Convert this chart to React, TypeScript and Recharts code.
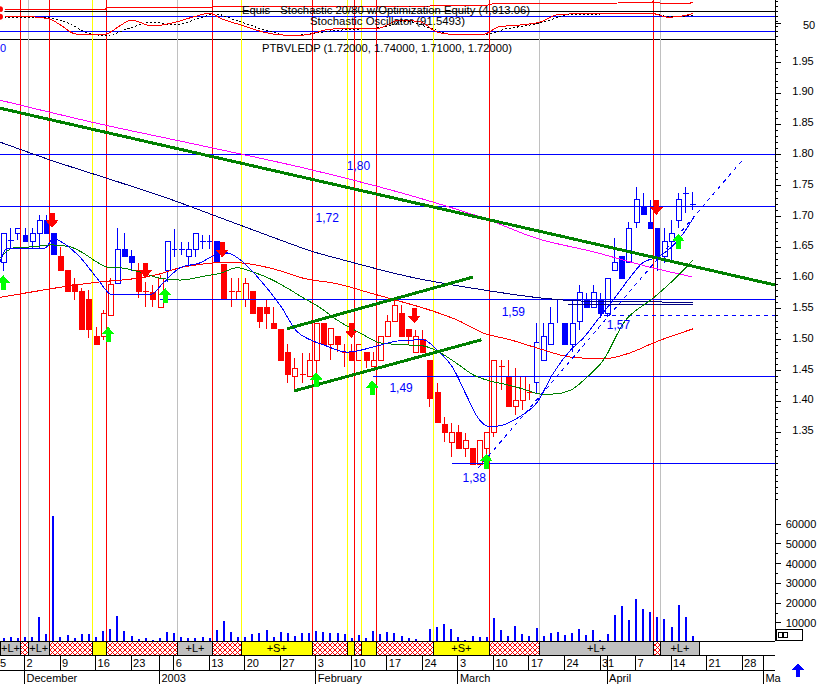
import React from 'react';
import {
  ComposedChart, Bar, Line, XAxis, YAxis, ReferenceLine, ReferenceArea, ReferenceDot,
} from 'recharts';

const FONT = '"Liberation Sans", Arial, sans-serif';
const X_DOMAIN: [number, number] = [-3.45, 105.63];
const PRICE_DOMAIN: [number, number] = [1.01104, 1.98831];
const VOL_DOMAIN: [number, number] = [909, 304950];
const STOCH_DOMAIN: [number, number] = [-16, 144];
const EQUITY_DOMAIN: [number, number] = [3000, 5000];

// trading-day index (0 = 2 Dec 2002)
const days = [
  -3, -2, -1, 0, 1, 2, 3, 4, 5, 6, 7, 8, 9, 10, 11, 12, 13, 14, 15, 16, 17, 18, 19, 20, 21, 22, 23, 24, 25, 26,
  27, 28, 29, 30, 31, 32, 33, 34, 35, 36, 37, 38, 39, 40, 41, 42, 43, 44, 45, 46, 47, 48, 49, 50, 51, 52, 53, 54,
  55, 56, 57, 58, 59, 60, 61, 62, 63, 64, 65, 66, 67, 68, 69, 70, 71, 72, 73, 74, 75, 76, 77, 78, 79, 80, 81, 82,
  83, 84, 85, 86, 87, 88, 89, 90, 91, 92, 93, 94,
];
const opens = [
  1.625, 1.662, 1.672, 1.670, 1.659, 1.672, 1.693, 1.672,
  1.636, 1.612, 1.589, 1.578, 1.565, 1.505, 1.505, 1.540,
  1.591, 1.646, 1.636,
  1.612, 1.579, 1.576, 1.553,
  1.612, 1.647, 1.646, 1.636, 1.647, 1.660, 1.660, 1.659,
  1.623, 1.579, 1.566, 1.566, 1.578, 1.553, 1.553, 1.527,
  1.516, 1.480, 1.441, 1.443, 1.441, 1.467, 1.527, 1.493,
  1.505, 1.480, 1.480, 1.467, 1.480, 1.456, 1.467, 1.505,
  1.529, 1.542, 1.516, 1.480, 1.500, 1.467, 1.415, 1.363,
  1.334, 1.349, 1.323, 1.323, 1.297, 1.323, 1.349, 1.456,
  1.441, 1.391, 1.402, 1.415,
  1.430, 1.467, 1.493, 1.565, 1.527, 1.493, 1.529, 1.565,
  1.553, 1.566, 1.543, 1.612, 1.636, 1.625, 1.691, 1.716,
  1.691, 1.681, 1.636, 1.659, 1.694, 1.738, 1.720,
];
const highs = [
  1.672, 1.681, 1.681, 1.681, 1.681, 1.703, 1.703, 1.672,
  1.651, 1.612, 1.600, 1.584, 1.581, 1.521, 1.548, 1.600,
  1.681, 1.673, 1.646,
  1.625, 1.594, 1.589, 1.605,
  1.659, 1.680, 1.659, 1.659, 1.672, 1.670, 1.670, 1.659,
  1.623, 1.600, 1.600, 1.600, 1.578, 1.553, 1.565, 1.553,
  1.516, 1.493, 1.470, 1.479, 1.479, 1.527, 1.527, 1.518,
  1.505, 1.493, 1.493, 1.493, 1.480, 1.480, 1.505, 1.540,
  1.568, 1.556, 1.516, 1.516, 1.516, 1.467, 1.430, 1.375,
  1.365, 1.362, 1.349, 1.323, 1.336, 1.349, 1.467, 1.467,
  1.467, 1.454, 1.441, 1.428,
  1.527, 1.527, 1.553, 1.565, 1.527, 1.565, 1.589, 1.576,
  1.589, 1.576, 1.600, 1.665, 1.636, 1.691, 1.748, 1.738,
  1.727, 1.681, 1.681, 1.694, 1.738, 1.748, 1.740,
];
const lows = [
  1.612, 1.647, 1.662, 1.660, 1.647, 1.647, 1.672, 1.638,
  1.612, 1.578, 1.565, 1.516, 1.503, 1.492, 1.500, 1.540,
  1.591, 1.636, 1.612,
  1.568, 1.553, 1.553, 1.553,
  1.594, 1.634, 1.638, 1.618, 1.634, 1.647, 1.647, 1.625,
  1.566, 1.553, 1.566, 1.553, 1.543, 1.519, 1.518, 1.518,
  1.467, 1.430, 1.418, 1.430, 1.441, 1.441, 1.492, 1.467,
  1.480, 1.456, 1.467, 1.467, 1.454, 1.456, 1.467, 1.505,
  1.529, 1.505, 1.492, 1.480, 1.480, 1.391, 1.365, 1.334,
  1.310, 1.323, 1.310, 1.297, 1.297, 1.297, 1.342, 1.418,
  1.391, 1.378, 1.386, 1.402,
  1.414, 1.467, 1.493, 1.527, 1.493, 1.480, 1.516, 1.553,
  1.553, 1.535, 1.537, 1.612, 1.600, 1.625, 1.681, 1.704,
  1.681, 1.612, 1.625, 1.625, 1.681, 1.706, 1.711,
];
const closes = [
  1.672, 1.662, 1.681, 1.660, 1.672, 1.693, 1.672, 1.638,
  1.612, 1.578, 1.578, 1.516, 1.516, 1.492, 1.542, 1.589,
  1.647, 1.636, 1.625,
  1.578, 1.579, 1.566, 1.600,
  1.659, 1.647, 1.646, 1.647, 1.672, 1.660, 1.660, 1.625,
  1.566, 1.579, 1.578, 1.591, 1.543, 1.529, 1.543, 1.518,
  1.467, 1.443, 1.454, 1.443, 1.467, 1.527, 1.492, 1.518,
  1.492, 1.480, 1.467, 1.493, 1.467, 1.467, 1.505, 1.529,
  1.556, 1.505, 1.505, 1.505, 1.480, 1.404, 1.365, 1.349,
  1.349, 1.323, 1.336, 1.297, 1.336, 1.349, 1.467, 1.456,
  1.391, 1.402, 1.441, 1.415,
  1.495, 1.505, 1.527, 1.565, 1.493, 1.527, 1.576, 1.553,
  1.576, 1.543, 1.600, 1.625, 1.600, 1.681, 1.727, 1.704,
  1.681, 1.636, 1.659, 1.672, 1.727, 1.738, 1.720,
];
const candleColors = [
  'b', 'b', 'b', 'b', 'b', 'b', 'b', 'b',
  'r', 'r', 'r', 'r', 'r', 'r', 'r', 'r',
  'b', 'b', 'b',
  'r', 'r', 'r', 'r',
  'b', 'b', 'b', 'b', 'b', 'b', 'b', 'b',
  'r', 'r', 'r', 'r', 'r', 'r', 'r', 'r', 'r', 'r', 'r', 'r', 'r', 'r', 'r', 'r', 'r', 'r', 'r', 'r', 'r', 'r',
  'r', 'r', 'r', 'r', 'r', 'r', 'r', 'r', 'r', 'r', 'r', 'r', 'r', 'r', 'r', 'r', 'r', 'r', 'r', 'r', 'r', 'r',
  'b', 'b', 'b', 'b', 'b', 'b', 'b', 'b', 'b', 'b', 'b', 'b', 'b', 'b', 'b', 'b', 'b', 'b', 'b', 'b', 'b', 'b', 'b',
];
const volumes = [
  2600, 2900, 2600, 2900, 2900, 13200, 4300, 64000,
  2900, 3900, 2250, 4450, 4450, 2900, 5800, 6800,
  13700, 5800, 3600,
  1900, 2600, 1400, 2250,
  5450, 4800, 2900, 2250, 2250, 2900, 2250, 6450,
  11000, 5450, 2900, 2900, 4450, 4800, 6450, 2900,
  5450, 5100, 3600, 5100, 5100, 5800, 5450, 5100,
  5100, 4450, 2250, 3900, 2250, 5800, 4450, 5450,
  4800, 3600, 2250, 1900, 1000, 6800, 8000, 9700,
  6800, 2900, 1400, 3300, 2900, 2900, 12400, 6450,
  3300, 8500, 4450, 3600,
  7500, 3600, 4800, 5450, 3950, 4800, 6800, 3950,
  6450, 1400, 4450, 14000, 18600, 11300, 22100, 17100,
  15500, 13000, 11900, 8000, 18900, 13000, 3300,
];

// moving averages: [day, price]
const fastMA = [
  [-3.45, 1.626], [-2.46, 1.649], [2.89, 1.649], [4.01, 1.664], [6.41, 1.649], [7.82, 1.634], [10.21, 1.600],
  [12.32, 1.573], [17.68, 1.573], [19.51, 1.592], [21.9, 1.617], [24.72, 1.625], [26.55, 1.636], [28.52, 1.641],
  [30.35, 1.630], [33.17, 1.597], [35.99, 1.556], [38.38, 1.513], [40.21, 1.500], [42.04, 1.492], [45.42, 1.480],
  [49.65, 1.490], [52.46, 1.498], [56.13, 1.500], [58.1, 1.483], [60.21, 1.456], [62.32, 1.407], [63.73, 1.375],
  [65.14, 1.360], [66.55, 1.360], [69.37, 1.373], [72.18, 1.399], [74.44, 1.446], [76.83, 1.483], [78.66, 1.503],
  [80.63, 1.532], [82.89, 1.565], [85.28, 1.602], [87.11, 1.626], [89.08, 1.634], [90.92, 1.649], [92.75, 1.673],
  [94.15, 1.698],
];
const greenMA = [
  [-3.45, 1.633], [-1.62, 1.649], [1.2, 1.651], [4.01, 1.654], [6.41, 1.651], [8.24, 1.641], [10.21, 1.626],
  [11.62, 1.618], [13.45, 1.617], [16.27, 1.610], [19.08, 1.600], [21.9, 1.597], [25.14, 1.603], [27.54, 1.608],
  [29.93, 1.617], [32.18, 1.610], [34.58, 1.599], [36.97, 1.584], [39.23, 1.568], [41.62, 1.552], [44.01, 1.532],
  [47.25, 1.511], [50.07, 1.495], [53.31, 1.492], [56.13, 1.490], [58.52, 1.479], [60.92, 1.461], [63.17, 1.443],
  [65.56, 1.433], [67.96, 1.427], [70.21, 1.420], [72.61, 1.412], [74.44, 1.412], [76.83, 1.418], [79.23, 1.440],
  [81.48, 1.467], [84.3, 1.527], [88.52, 1.568], [91.34, 1.597], [94.15, 1.630],
];
const redMA = [
  [-3.45, 1.569], [1.2, 1.578], [5.99, 1.587], [10.63, 1.594], [15.28, 1.599], [19.08, 1.607], [21.9, 1.617],
  [25.14, 1.623], [28.94, 1.626], [32.75, 1.621], [35.99, 1.612], [39.23, 1.600], [44.01, 1.591], [48.66, 1.576],
  [53.31, 1.561], [57.11, 1.548], [60.92, 1.532], [64.58, 1.511], [68.38, 1.500], [72.61, 1.485], [76.83, 1.472],
  [81.48, 1.469], [85.28, 1.479], [88.52, 1.495], [94.15, 1.518],
];
const navyMA = [
  [-3.45, 1.821], [3.59, 1.792], [12.46, 1.759], [20.07, 1.730], [28.52, 1.694], [35.99, 1.662], [40.63, 1.643],
  [44.72, 1.630], [54.3, 1.602], [64.58, 1.581], [72.61, 1.568], [78.24, 1.563], [94.15, 1.561],
];
const navyFlat = [[76.5, 1.558], [94.15, 1.558]];
const magentaMA = [
  [-3.45, 1.889], [10, 1.852], [25, 1.815], [40, 1.777], [55, 1.732], [65, 1.696], [72, 1.665], [80, 1.643],
  [88, 1.618], [94, 1.602],
];

// stochastic panel
const stochK = [
  [-3.45, 77], [0.92, 77], [3.59, 67], [5.42, 37], [6.83, 11], [8.38, 4], [11.34, 7], [13.59, 44], [15.0, 64],
  [17.96, 40], [20.92, 53], [23.87, 77], [26.13, 91], [27.54, 71], [30.49, 44], [33.45, 17], [36.41, 4],
  [39.37, 4], [42.32, 24], [45.28, 31], [49.79, 31], [52.75, 64], [55.7, 57], [57.96, 17], [60.07, 7], [64.58, 7],
  [66.83, 37], [69.79, 44], [72.75, 57], [74.86, 84], [79.37, 91], [88.24, 91], [90.49, 75], [92.61, 80],
  [94.15, 91],
];
const stochD = [
  [-3.45, 72], [2.18, 76], [6.41, 48], [8.52, 16], [11.34, 2], [14.86, 32], [17.68, 56], [21.2, 44], [24.72, 72],
  [26.83, 88], [29.65, 64], [33.87, 24], [37.39, 2], [40.21, 8], [43.03, 20], [47.25, 28], [50.77, 36],
  [53.59, 60], [57.11, 32], [60.63, 4], [64.86, 6], [67.68, 28], [71.2, 44], [74.01, 64], [76.13, 84], [81.06, 88],
  [88.1, 90], [90.92, 76], [94.15, 84],
];
const equity = [
  [-3.45, 4535], [11.34, 4535], [11.62, 4650], [26.41, 4650], [26.69, 4700], [57.11, 4700], [58.52, 4750],
  [65.28, 4750], [65.85, 4800], [81.06, 4825], [88.38, 4900], [89.5, 4850], [93.73, 4850], [94.15, 4913],
];

// trendlines [[day, price], [day, price]]
const longTrend = [[-3.45, 1.876], [105.63, 1.589]];
const channelUpper = [[36.97, 1.518], [63.17, 1.602]];
const channelLower = [[37.96, 1.417], [64.3, 1.5]];
const blueDashTrend = [[63.87, 1.292], [100.92, 1.79]];

// horizontal levels: price, start day
const levelPrices = [1.8, 1.7156, 1.5662, 1.4412, 1.2984];
const levelStarts = [-3.45, -3.45, 19.08, 49.08, 60.2];
const dashedLevel = [1.5402, 81.6];
const levelTexts = ['1,80', '1,72', '1,59', '1,57', '1,49', '1,38'];
const levelTextDay = [47.0, 42.6, 68.8, 83.6, 53.0, 63.3];
const levelTextPrice = [1.782, 1.698, 1.545, 1.524, 1.422, 1.276];

// signal arrows
const sellArrows = [[3.87, 1.694], [17.04, 1.6125], [27.82, 1.646], [45.99, 1.515], [54.86, 1.539], [88.94, 1.715]];
const buyArrows = [[-3.0, 1.593], [11.76, 1.509], [19.79, 1.572], [41.06, 1.435], [48.94, 1.422], [65.0, 1.303], [92.04, 1.66]];

// vertical signal lines
const redSignals = [-0.5, 3.5, 11.5, 26.5, 40.5, 46.5, 49.5, 65.5, 88.5];
const yellowSignals = [9.5, 30.5, 45.5, 47.5, 57.5];
const greySignals = [0.5, 21.5, 72.5, 89.5];

// position strip: [from, to, kind]
const stripSegments: [number, number, string][] = [
  [-3.45, -0.5, 'L'], [-0.5, 0.5, 'H'], [0.5, 3.5, 'L'], [3.5, 9.5, 'H'], [9.5, 11.5, 'Y'], [11.5, 21.5, 'H'],
  [21.5, 26.5, 'L'], [26.5, 30.5, 'H'], [30.5, 40.5, 'S'], [40.5, 45.5, 'H'], [45.5, 46.5, 'Y'], [46.5, 47.5, 'H'],
  [47.5, 49.5, 'Y'], [49.5, 57.5, 'H'], [57.5, 65.5, 'S'], [65.5, 72.5, 'H'], [72.5, 88.5, 'L'], [88.5, 89.5, 'H'],
  [89.5, 95.0, 'L'],
];

// date axis
const weekTicks = [-5, 0, 5, 10, 15, 21, 26, 31, 36, 41, 46, 51, 56, 61, 66, 71, 76, 81, 86, 91, 96, 101];
const weekLabels = ['25', '2', '9', '16', '23', '6', '13', '20', '27', '3', '10', '17', '24', '3', '10', '17', '24', '31', '7', '14', '21', '28'];
const monthTicks = [0, 19, 41, 61, 82, 104];
const monthLabels = ['December', '2003', 'February', 'March', 'April', 'Ma'];

const priceTicks = Array.from({ length: 75 }, (_, i) => Math.round((1.24 + i * 0.01) * 100) / 100);
const volTicks = [5000, 10000, 15000, 20000, 25000, 30000, 35000, 40000, 45000, 50000, 55000, 60000];
const stochTicks = [0, 20, 40, 50, 60, 80, 100, 120, 140];

const candleData = days.map((v, i) => ({
  v, range: [lows[i], highs[i]], o: opens[i], h: highs[i], l: lows[i], c: closes[i], col: candleColors[i], vol: volumes[i],
}));
const pts = (arr: number[][]) => arr.map(([v, p]) => ({ v, p }));
const seg = (arr: number[][]) => arr.map(([x, y]) => ({ x, y }));

const BLUE = '#0000ff';
const RED = '#ff0000';
const MARGIN = { top: 0, right: 0, bottom: 0, left: 0 };
const MARGIN_R = { top: 0, right: 46, bottom: 0, left: 0 };

const Candle = (props: any) => {
  const { x, y, width, height, payload } = props;
  if (!payload || !isFinite(y) || !isFinite(height)) return null;
  const top = Math.min(y, y + height);
  const bot = Math.max(y, y + height);
  const { o, h, l, c, col } = payload;
  const span = h - l || 1;
  const pix = (val: number) => top + ((h - val) / span) * (bot - top);
  const color = col === 'b' ? BLUE : RED;
  const cx = Math.round(x + width / 2) + 0.5;
  const bt = pix(Math.max(o, c));
  const bb = pix(Math.min(o, c));
  const doji = Math.abs(o - c) < 0.0015;
  return (
    <g>
      <line x1={cx} x2={cx} y1={top} y2={bot} stroke={color} />
      {doji ? (
        <line x1={cx - 3} x2={cx + 3} y1={bt} y2={bt} stroke={color} />
      ) : (
        <rect x={cx - 2.5} y={bt} width={5} height={Math.max(1, bb - bt)} fill={c > o ? '#fff' : color} stroke={color} />
      )}
    </g>
  );
};

const DownArrow = (p: any) => {
  const { cx, cy } = p;
  return (
    <polygon
      points={`${cx - 2.5},${cy - 7.5} ${cx + 2.5},${cy - 7.5} ${cx + 2.5},${cy} ${cx + 6.5},${cy} ${cx},${cy + 7.5} ${cx - 6.5},${cy} ${cx - 2.5},${cy}`}
      fill={RED}
    />
  );
};
const UpArrow = (p: any) => {
  const { cx, cy } = p;
  return (
    <polygon
      points={`${cx - 2.5},${cy + 7.5} ${cx + 2.5},${cy + 7.5} ${cx + 2.5},${cy} ${cx + 6.5},${cy} ${cx},${cy - 7.5} ${cx - 6.5},${cy} ${cx - 2.5},${cy}`}
      fill="#00ff00"
    />
  );
};

const PriceTick = (props: any) => {
  const { x, y, payload } = props;
  const k = Math.round(payload.value * 100);
  const major = k % 5 === 0 && k >= 135 && k <= 195;
  return (
    <g>
      <line x1={x} x2={x + (major ? 6 : 3)} y1={y} y2={y} stroke="#000" />
      {major && (
        <text x={x + 28} y={y + 2} textAnchor="middle" fontSize={11} fontFamily={FONT} fill="#000">
          {(k / 100).toFixed(2)}
        </text>
      )}
    </g>
  );
};
const VolTick = (props: any) => {
  const { x, y, payload } = props;
  const major = payload.value % 10000 === 0;
  return (
    <g>
      <line x1={x} x2={x + (major ? 6 : 3)} y1={y} y2={y} stroke="#000" />
      {major && (
        <text x={x + 26} y={y + 4} textAnchor="middle" fontSize={11} fontFamily={FONT} fill="#000">
          {payload.value}
        </text>
      )}
    </g>
  );
};
const StochTick = (props: any) => {
  const { x, y, payload } = props;
  const major = payload.value === 50;
  return (
    <g>
      <line x1={x} x2={x + (major ? 6 : 3)} y1={y} y2={y} stroke="#000" />
      {major && (
        <text x={x + 34} y={y + 5} textAnchor="middle" fontSize={11} fontFamily={FONT} fill="#000">50</text>
      )}
    </g>
  );
};
const WeekTick = (props: any) => {
  const { x, y, payload } = props;
  const idx = weekTicks.indexOf(payload.value);
  const label = weekLabels[idx];
  if (x < 0) {
    // the first week label is cut by the left edge; only its last digit is shown
    return <text x={0} y={y + 12} fontSize={11} fontFamily={FONT} fill="#000">{label.slice(-1)}</text>;
  }
  return (
    <g>
      <line x1={x} x2={x} y1={y} y2={y + 15} stroke="#000" />
      <text x={x + 2} y={y + 12} fontSize={11} fontFamily={FONT} fill="#000">{label}</text>
    </g>
  );
};
const MonthTick = (props: any) => {
  const { x, y, payload } = props;
  const idx = monthTicks.indexOf(payload.value);
  return (
    <g>
      <line x1={x} x2={x} y1={y - 15} y2={y + 14} stroke="#000" />
      <text x={x + 2} y={y + 12} fontSize={11} fontFamily={FONT} fill="#000">{monthLabels[idx]}</text>
    </g>
  );
};

const signalLines = () => [
  ...greySignals.map((v) => <ReferenceLine key={`g${v}`} x={v} stroke="#c0c0c0" />),
  ...yellowSignals.map((v) => <ReferenceLine key={`y${v}`} x={v} stroke="#ffff00" />),
  ...redSignals.map((v) => <ReferenceLine key={`r${v}`} x={v} stroke={RED} />),
];

const stripFill: Record<string, string> = { L: '#c0c0c0', S: '#ffff00', Y: '#ffff00', H: 'url(#hatch)' };
const stripText: Record<string, string> = { L: '+L+', S: '+S+', Y: '', H: '' };

export default function App() {
  return (
    <div className="chartwrap" style={{ position: 'absolute', left: 0, top: 0, width: 821, height: 684, background: '#fff', overflow: 'hidden', fontFamily: FONT }}>
      <style>{'.chartwrap svg line, .chartwrap svg path, .chartwrap svg rect, .chartwrap svg polygon { shape-rendering: crispEdges; }'}</style>

      {/* stochastic panel */}
      <div style={{ position: 'absolute', left: 0, top: 0 }}>
        <ComposedChart width={821} height={40} data={pts(stochK)} margin={MARGIN}>
          <XAxis type="number" dataKey="v" domain={X_DOMAIN} allowDataOverflow hide />
          <YAxis orientation="right" width={46} domain={STOCH_DOMAIN} allowDataOverflow ticks={stochTicks} interval={0}
            tickLine={false} tickSize={0} tickMargin={0} axisLine={{ stroke: '#000' }} tick={StochTick} />
          <YAxis yAxisId="eq" hide domain={EQUITY_DOMAIN} allowDataOverflow />
          {signalLines()}
          <ReferenceLine y={100} stroke="#000" />
          <ReferenceLine y={80} stroke={BLUE} />
          <ReferenceLine y={20} stroke={BLUE} />
          <ReferenceLine y={-12} stroke="#000" />
          <Line yAxisId="eq" data={pts(equity)} dataKey="p" type="linear" stroke={RED} strokeWidth={1} dot={false} isAnimationActive={false} />
          <Line data={pts(stochD)} dataKey="p" type="monotone" stroke="#000" strokeDasharray="2 2" strokeWidth={1} dot={false} isAnimationActive={false} />
          <Line data={pts(stochK)} dataKey="p" type="monotone" stroke={RED} strokeWidth={1} dot={false} isAnimationActive={false} />
        </ComposedChart>
      </div>

      {/* price panel */}
      <div style={{ position: 'absolute', left: 0, top: 39 }}>
        <ComposedChart width={821} height={602} data={candleData} margin={MARGIN}>
          <XAxis type="number" dataKey="v" domain={X_DOMAIN} allowDataOverflow hide />
          <YAxis orientation="right" width={46} domain={PRICE_DOMAIN} allowDataOverflow ticks={priceTicks} interval={0}
            tickLine={false} tickSize={0} tickMargin={0} axisLine={{ stroke: '#000' }} tick={PriceTick} />
          {signalLines()}
          {levelPrices.map((p, i) => (
            <ReferenceLine key={`lv${i}`} segment={[{ x: levelStarts[i], y: p }, { x: X_DOMAIN[1], y: p }]} stroke={BLUE} />
          ))}
          <ReferenceLine segment={[{ x: dashedLevel[1], y: dashedLevel[0] }, { x: X_DOMAIN[1], y: dashedLevel[0] }]} stroke={BLUE} strokeDasharray="4 4" />
          <Line data={pts(magentaMA)} dataKey="p" type="monotone" stroke="#ff00ff" dot={false} isAnimationActive={false} />
          <Line data={pts(navyMA)} dataKey="p" type="monotone" stroke="#000080" dot={false} isAnimationActive={false} />
          <Line data={pts(navyFlat)} dataKey="p" type="linear" stroke="#000080" dot={false} isAnimationActive={false} />
          <Line data={pts(redMA)} dataKey="p" type="monotone" stroke={RED} dot={false} isAnimationActive={false} />
          <Line data={pts(greenMA)} dataKey="p" type="monotone" stroke="#008000" dot={false} isAnimationActive={false} />
          <Line data={pts(fastMA)} dataKey="p" type="monotone" stroke={BLUE} dot={false} isAnimationActive={false} />
          <ReferenceLine segment={seg(longTrend)} stroke="#008000" strokeWidth={3} />
          <ReferenceLine segment={seg(channelUpper)} stroke="#008000" strokeWidth={3} />
          <ReferenceLine segment={seg(channelLower)} stroke="#008000" strokeWidth={3} />
          <ReferenceLine segment={seg(blueDashTrend)} stroke={BLUE} strokeDasharray="4 4" />
          <Bar dataKey="range" barSize={7} shape={Candle} isAnimationActive={false} />
          {sellArrows.map(([v, p], i) => (
            <ReferenceDot key={`s${i}`} x={v} y={p} r={7} shape={DownArrow} />
          ))}
          {buyArrows.map(([v, p], i) => (
            <ReferenceDot key={`b${i}`} x={v} y={p} r={7} shape={UpArrow} />
          ))}
          {levelTexts.map((t, i) => (
            <ReferenceDot key={`t${i}`} x={levelTextDay[i]} y={levelTextPrice[i]} r={1}
              shape={(p: any) => (
                <text x={p.cx} y={p.cy + 4} textAnchor="middle" fontSize={12} fontFamily={FONT} fill={BLUE}>{t}</text>
              )} />
          ))}
        </ComposedChart>
      </div>

      {/* volume */}
      <div style={{ position: 'absolute', left: 0, top: 39 }}>
        <ComposedChart width={821} height={602} data={candleData} margin={MARGIN}>
          <XAxis type="number" dataKey="v" domain={X_DOMAIN} allowDataOverflow hide />
          <YAxis orientation="right" width={46} domain={VOL_DOMAIN} allowDataOverflow ticks={volTicks} interval={0}
            tickLine={false} tickSize={0} tickMargin={0} axisLine={false} tick={VolTick} />
          <Bar dataKey="vol" barSize={2} fill={BLUE} isAnimationActive={false} />
        </ComposedChart>
      </div>

      {/* position strip */}
      <div style={{ position: 'absolute', left: 0, top: 640 }}>
        <ComposedChart width={821} height={16} data={candleData} margin={{ top: 1, right: 46, bottom: 1, left: 0 }}>
          <defs>
            <pattern id="hatch" width="5" height="5" patternUnits="userSpaceOnUse">
              <rect width="5" height="5" fill="#fff" />
              <path d="M0,0 L5,5 M5,0 L0,5" stroke={RED} strokeWidth="1" />
            </pattern>
          </defs>
          <XAxis type="number" dataKey="v" domain={X_DOMAIN} allowDataOverflow hide />
          <YAxis type="number" hide domain={[0, 1]} allowDataOverflow />
          {stripSegments.map(([a, b, k], i) => (
            <ReferenceArea key={`st${i}`} x1={a} x2={b} y1={0} y2={1} fill={stripFill[k]} fillOpacity={1}
              stroke="#000" strokeWidth={1} ifOverflow="extendDomain"
              label={stripText[k] ? { value: stripText[k], position: 'center', fill: '#000', fontSize: 11, fontFamily: FONT } : undefined} />
          ))}
          <ReferenceLine y={1} stroke="#000" />
        </ComposedChart>
      </div>

      {/* week row */}
      <div style={{ position: 'absolute', left: 0, top: 654 }}>
        <ComposedChart width={821} height={16} data={candleData} margin={MARGIN_R}>
          <XAxis type="number" dataKey="v" domain={X_DOMAIN} allowDataOverflow ticks={weekTicks} interval={0}
            height={15} tickLine={false} tickSize={0} tickMargin={0} axisLine={{ stroke: '#000' }} tick={WeekTick} />
          <YAxis type="number" hide domain={[0, 1]} allowDataOverflow />
        </ComposedChart>
      </div>

      {/* month row */}
      <div style={{ position: 'absolute', left: 0, top: 654 }}>
        <ComposedChart width={821} height={30} data={candleData} margin={MARGIN_R}>
          <XAxis type="number" dataKey="v" domain={X_DOMAIN} allowDataOverflow ticks={monthTicks} interval={0}
            height={14} tickLine={false} tickSize={0} tickMargin={0} axisLine={{ stroke: '#000' }} tick={MonthTick} />
          <YAxis type="number" hide domain={[0, 1]} allowDataOverflow />
        </ComposedChart>
      </div>

      {/* static texts and widgets */}
      <svg width={821} height={684} style={{ position: 'absolute', left: 0, top: 0, pointerEvents: 'none' }}>
        <text x={242} y={14} fontSize={11} fontFamily={FONT} fill="#000" textLength={288} lengthAdjust="spacingAndGlyphs">
          Equis - Stochastic 20/80  w/Optimization Equity (4,913.06)
        </text>
        <text x={310} y={25} fontSize={11} fontFamily={FONT} fill="#000" textLength={155} lengthAdjust="spacingAndGlyphs">
          Stochastic Oscillator (91.5493)
        </text>
        <text x={262} y={52} fontSize={11} fontFamily={FONT} fill="#000" textLength={250} lengthAdjust="spacingAndGlyphs">
          PTBVLEDP (1.72000, 1.74000, 1.71000, 1.72000)
        </text>
        <text x={0} y={52} fontSize={11} fontFamily={FONT} fill={BLUE}>0</text>
        <rect x={776.5} y={629.5} width={26} height={11} fill="#fff" stroke="#000" />
        <rect x={778.5} y={632.5} width={4} height={5} fill="#fff" stroke="#000" />
        <rect x={783.5} y={632.5} width={4} height={5} fill="#fff" stroke="#000" />
        <polygon points="798,663 804,670 800,670 800,677 796,677 796,670 792,670" fill={BLUE} />
      </svg>
    </div>
  );
}
